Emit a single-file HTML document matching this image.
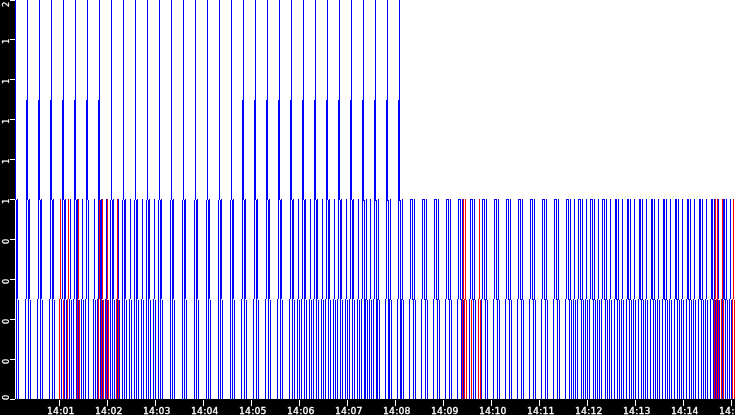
<!DOCTYPE html>
<html><head><meta charset="utf-8"><title>chart</title>
<style>
html,body{margin:0;padding:0;background:#fff;}
#c{position:relative;width:735px;height:415px;overflow:hidden;background:#fff;font-family:"DejaVu Sans","Liberation Sans",sans-serif;font-size:9.3px;color:#fff;-webkit-text-stroke:0.3px #fff;letter-spacing:0.15px;line-height:1;}
#ya{position:absolute;left:0;top:0;width:15px;height:415px;background:#000;}
#xa{position:absolute;left:0;top:399px;width:735px;height:16px;background:#000;}
.tk{position:absolute;left:10px;width:5px;height:1px;background:#fff;}
.xt{position:absolute;top:400px;width:1px;height:6px;background:#fff;}
.yl{position:absolute;left:1.3px;width:9px;height:6px;}
.yl{font-family:"DejaVu Sans Condensed","DejaVu Sans","Liberation Sans",sans-serif;-webkit-text-stroke:0.2px #fff;letter-spacing:0;writing-mode:vertical-rl;transform:rotate(180deg);text-align:left;white-space:nowrap;overflow:visible;}
.xl{position:absolute;top:406px;width:40px;text-align:left;white-space:nowrap;}
svg{position:absolute;left:0;top:0;}
</style></head><body>
<div id="c">
<svg width="735" height="415" viewBox="0 0 735 415" shape-rendering="crispEdges">
<path fill="#0000ff" d="M15 0h1v200h-1zM27 0h1v200h-1zM39 0h1v200h-1zM51 0h1v200h-1zM63 0h1v200h-1zM75 0h1v200h-1zM87 0h1v200h-1zM99 0h1v200h-1zM111 0h1v200h-1zM123 0h1v200h-1zM135 0h1v200h-1zM147 0h1v200h-1zM159 0h1v200h-1zM171 0h1v200h-1zM183 0h1v200h-1zM195 0h1v200h-1zM207 0h1v200h-1zM219 0h1v200h-1zM231 0h1v200h-1zM243 0h1v200h-1zM255 0h1v200h-1zM267 0h1v200h-1zM279 0h1v200h-1zM291 0h1v200h-1zM303 0h1v200h-1zM315 0h1v200h-1zM327 0h1v200h-1zM339 0h1v200h-1zM351 0h1v200h-1zM363 0h1v200h-1zM375 0h1v200h-1zM387 0h1v200h-1zM399 0h1v200h-1zM26 100h1v100h-1zM38 100h1v100h-1zM50 100h1v100h-1zM62 100h1v100h-1zM74 100h1v100h-1zM86 100h1v100h-1zM98 100h1v100h-1zM242 100h1v100h-1zM254 100h1v100h-1zM266 100h1v100h-1zM278 100h1v100h-1zM290 100h1v100h-1zM302 100h1v100h-1zM314 100h1v100h-1zM326 100h1v100h-1zM338 100h1v100h-1zM350 100h1v100h-1zM362 100h1v100h-1zM374 100h1v100h-1zM386 100h1v100h-1zM398 100h1v100h-1zM16 200h1v100h-1zM17 199h1v100h-1zM26 199h1v100h-1zM28 200h1v100h-1zM29 199h1v100h-1zM38 199h1v100h-1zM40 200h1v100h-1zM41 199h1v100h-1zM50 199h1v100h-1zM52 200h1v100h-1zM53 199h1v100h-1zM62 199h1v100h-1zM64 200h1v100h-1zM65 199h1v100h-1zM70 199h1v100h-1zM74 199h1v100h-1zM76 200h1v100h-1zM77 199h1v100h-1zM82 199h1v100h-1zM86 199h1v100h-1zM88 200h1v100h-1zM94 199h1v100h-1zM98 199h1v100h-1zM100 200h1v100h-1zM101 199h1v100h-1zM106 199h1v100h-1zM110 200h1v100h-1zM112 200h1v100h-1zM113 199h1v100h-1zM118 199h1v100h-1zM122 200h1v100h-1zM124 200h1v100h-1zM125 199h1v100h-1zM130 199h1v100h-1zM134 200h1v100h-1zM136 200h1v100h-1zM137 199h1v100h-1zM142 199h1v100h-1zM146 200h1v100h-1zM148 200h1v100h-1zM149 199h1v100h-1zM154 199h1v100h-1zM158 200h1v100h-1zM160 200h1v100h-1zM161 199h1v100h-1zM170 200h1v100h-1zM172 200h1v100h-1zM173 199h1v100h-1zM182 200h1v100h-1zM184 200h1v100h-1zM185 199h1v100h-1zM194 200h1v100h-1zM196 200h1v100h-1zM197 199h1v100h-1zM206 200h1v100h-1zM208 200h1v100h-1zM209 199h1v100h-1zM218 200h1v100h-1zM220 200h1v100h-1zM221 199h1v100h-1zM230 200h1v100h-1zM232 200h1v100h-1zM233 199h1v100h-1zM242 199h1v100h-1zM244 200h1v100h-1zM245 199h1v100h-1zM254 199h1v100h-1zM256 200h1v100h-1zM257 199h1v100h-1zM266 199h1v100h-1zM268 200h1v100h-1zM269 199h1v100h-1zM278 199h1v100h-1zM280 200h1v100h-1zM281 199h1v100h-1zM290 199h1v100h-1zM292 200h1v100h-1zM293 199h1v100h-1zM298 199h1v100h-1zM302 199h1v100h-1zM304 200h1v100h-1zM305 199h1v100h-1zM310 199h1v100h-1zM314 199h1v100h-1zM316 200h1v100h-1zM317 199h1v100h-1zM322 199h1v100h-1zM326 199h1v100h-1zM328 200h1v100h-1zM329 199h1v100h-1zM334 199h1v100h-1zM338 199h1v100h-1zM340 200h1v100h-1zM341 199h1v100h-1zM346 199h1v100h-1zM350 199h1v100h-1zM352 200h1v100h-1zM353 199h1v100h-1zM358 199h1v100h-1zM362 199h1v100h-1zM364 200h1v100h-1zM366 199h1v101h-1zM370 199h1v100h-1zM374 199h1v100h-1zM376 200h1v100h-1zM378 199h1v101h-1zM386 199h1v100h-1zM388 200h1v100h-1zM390 199h1v101h-1zM398 199h1v100h-1zM400 200h1v100h-1zM402 199h1v101h-1zM410 199h1v100h-1zM412 199h1v101h-1zM414 199h1v101h-1zM422 199h1v100h-1zM424 199h1v101h-1zM426 199h1v101h-1zM434 199h1v100h-1zM436 199h1v101h-1zM438 199h1v101h-1zM446 199h1v100h-1zM448 199h1v101h-1zM450 199h1v101h-1zM458 199h1v100h-1zM460 199h1v101h-1zM462 199h1v101h-1zM470 199h1v100h-1zM472 199h1v101h-1zM474 199h1v101h-1zM482 199h1v100h-1zM484 199h1v101h-1zM486 199h1v101h-1zM494 199h1v100h-1zM496 199h1v101h-1zM498 199h1v101h-1zM506 199h1v100h-1zM508 199h1v101h-1zM510 199h1v101h-1zM518 199h1v100h-1zM520 199h1v101h-1zM522 199h1v101h-1zM530 199h1v100h-1zM532 199h1v101h-1zM534 199h1v101h-1zM542 199h1v100h-1zM544 199h1v101h-1zM546 199h1v101h-1zM554 199h1v100h-1zM556 199h1v101h-1zM558 199h1v101h-1zM566 199h1v100h-1zM568 199h1v101h-1zM570 199h1v101h-1zM574 199h1v100h-1zM578 199h1v100h-1zM580 199h1v101h-1zM582 199h1v101h-1zM586 199h1v100h-1zM590 199h1v100h-1zM592 199h1v101h-1zM594 199h1v101h-1zM598 199h1v100h-1zM602 199h1v100h-1zM604 199h1v101h-1zM606 199h1v101h-1zM610 199h1v100h-1zM615 199h1v100h-1zM616 199h1v101h-1zM618 199h1v101h-1zM622 199h1v100h-1zM627 199h1v100h-1zM628 199h1v101h-1zM630 199h1v101h-1zM634 199h1v100h-1zM639 199h1v100h-1zM640 199h1v101h-1zM642 199h1v101h-1zM646 199h1v100h-1zM651 199h1v100h-1zM652 199h1v101h-1zM654 199h1v101h-1zM658 199h1v100h-1zM663 199h1v100h-1zM664 199h1v101h-1zM666 199h1v101h-1zM670 199h1v100h-1zM675 199h1v100h-1zM676 199h1v101h-1zM678 199h1v101h-1zM682 199h1v100h-1zM687 199h1v100h-1zM688 199h1v101h-1zM690 199h1v101h-1zM694 199h1v100h-1zM699 199h1v100h-1zM700 199h1v101h-1zM702 199h1v101h-1zM706 199h1v100h-1zM711 199h1v100h-1zM712 199h1v101h-1zM714 199h1v101h-1zM718 199h1v100h-1zM723 199h1v100h-1zM724 199h1v101h-1zM726 199h1v101h-1zM730 199h1v100h-1zM16 299h1v100h-1zM18 300h1v99h-1zM25 299h1v100h-1zM28 299h1v100h-1zM30 300h1v99h-1zM37 299h1v100h-1zM40 299h1v100h-1zM42 300h1v99h-1zM49 299h1v100h-1zM52 299h1v100h-1zM54 300h1v99h-1zM61 299h1v100h-1zM64 299h1v100h-1zM66 300h1v99h-1zM69 299h1v100h-1zM71 300h1v99h-1zM73 299h1v100h-1zM76 299h1v100h-1zM78 300h1v99h-1zM81 299h1v100h-1zM83 300h1v99h-1zM85 299h1v100h-1zM88 299h1v100h-1zM93 299h1v100h-1zM95 300h1v99h-1zM97 299h1v100h-1zM100 299h1v100h-1zM102 300h1v99h-1zM105 299h1v100h-1zM107 300h1v99h-1zM110 299h1v100h-1zM112 299h1v100h-1zM114 300h1v99h-1zM117 299h1v100h-1zM119 300h1v99h-1zM122 299h1v100h-1zM124 299h1v100h-1zM126 300h1v99h-1zM129 299h1v100h-1zM131 300h1v99h-1zM134 299h1v100h-1zM136 299h1v100h-1zM138 300h1v99h-1zM141 299h1v100h-1zM143 300h1v99h-1zM146 299h1v100h-1zM148 299h1v100h-1zM150 300h1v99h-1zM153 299h1v100h-1zM155 300h1v99h-1zM158 299h1v100h-1zM160 299h1v100h-1zM162 300h1v99h-1zM170 299h1v100h-1zM172 299h1v100h-1zM174 300h1v99h-1zM182 299h1v100h-1zM184 299h1v100h-1zM186 300h1v99h-1zM194 299h1v100h-1zM196 299h1v100h-1zM198 300h1v99h-1zM206 299h1v100h-1zM208 299h1v100h-1zM210 300h1v99h-1zM218 299h1v100h-1zM220 299h1v100h-1zM222 300h1v99h-1zM230 299h1v100h-1zM232 299h1v100h-1zM234 300h1v99h-1zM241 299h1v100h-1zM244 299h1v100h-1zM246 300h1v99h-1zM253 299h1v100h-1zM256 299h1v100h-1zM258 300h1v99h-1zM265 299h1v100h-1zM268 299h1v100h-1zM270 300h1v99h-1zM277 299h1v100h-1zM280 299h1v100h-1zM282 300h1v99h-1zM289 299h1v100h-1zM292 299h1v100h-1zM294 300h1v99h-1zM297 299h1v100h-1zM299 300h1v99h-1zM301 299h1v100h-1zM304 299h1v100h-1zM306 300h1v99h-1zM309 299h1v100h-1zM311 300h1v99h-1zM313 299h1v100h-1zM316 299h1v100h-1zM318 300h1v99h-1zM321 299h1v100h-1zM323 300h1v99h-1zM325 299h1v100h-1zM328 299h1v100h-1zM330 300h1v99h-1zM333 299h1v100h-1zM335 300h1v99h-1zM337 299h1v100h-1zM340 299h1v100h-1zM342 300h1v99h-1zM345 299h1v100h-1zM347 300h1v99h-1zM349 299h1v100h-1zM352 299h1v100h-1zM354 300h1v99h-1zM357 299h1v100h-1zM359 300h1v99h-1zM361 299h1v100h-1zM364 299h1v100h-1zM365 299h1v100h-1zM367 300h1v99h-1zM369 299h1v100h-1zM371 300h1v99h-1zM373 299h1v100h-1zM376 299h1v100h-1zM377 299h1v100h-1zM379 300h1v99h-1zM385 299h1v100h-1zM388 299h1v100h-1zM389 299h1v100h-1zM391 300h1v99h-1zM397 299h1v100h-1zM400 299h1v100h-1zM401 299h1v100h-1zM403 300h1v99h-1zM409 299h1v100h-1zM413 299h1v100h-1zM415 300h1v99h-1zM421 299h1v100h-1zM425 299h1v100h-1zM427 300h1v99h-1zM433 299h1v100h-1zM437 299h1v100h-1zM439 300h1v99h-1zM445 299h1v100h-1zM449 299h1v100h-1zM451 300h1v99h-1zM457 299h1v100h-1zM461 299h1v100h-1zM463 300h1v99h-1zM469 299h1v100h-1zM473 299h1v100h-1zM475 300h1v99h-1zM481 299h1v100h-1zM485 299h1v100h-1zM487 300h1v99h-1zM493 299h1v100h-1zM497 299h1v100h-1zM499 300h1v99h-1zM505 299h1v100h-1zM509 299h1v100h-1zM511 300h1v99h-1zM517 299h1v100h-1zM521 299h1v100h-1zM523 300h1v99h-1zM529 299h1v100h-1zM533 299h1v100h-1zM535 300h1v99h-1zM541 299h1v100h-1zM545 299h1v100h-1zM547 300h1v99h-1zM553 299h1v100h-1zM557 299h1v100h-1zM559 300h1v99h-1zM565 299h1v100h-1zM569 299h1v100h-1zM571 300h1v99h-1zM573 299h1v100h-1zM575 300h1v99h-1zM577 299h1v100h-1zM581 299h1v100h-1zM583 300h1v99h-1zM585 299h1v100h-1zM587 300h1v99h-1zM589 299h1v100h-1zM593 299h1v100h-1zM595 300h1v99h-1zM597 299h1v100h-1zM599 300h1v99h-1zM601 299h1v100h-1zM605 299h1v100h-1zM607 300h1v99h-1zM609 299h1v100h-1zM611 300h1v99h-1zM614 299h1v100h-1zM617 299h1v100h-1zM619 300h1v99h-1zM621 299h1v100h-1zM623 300h1v99h-1zM626 299h1v100h-1zM629 299h1v100h-1zM631 300h1v99h-1zM633 299h1v100h-1zM635 300h1v99h-1zM638 299h1v100h-1zM641 299h1v100h-1zM643 300h1v99h-1zM645 299h1v100h-1zM647 300h1v99h-1zM650 299h1v100h-1zM653 299h1v100h-1zM655 300h1v99h-1zM657 299h1v100h-1zM659 300h1v99h-1zM662 299h1v100h-1zM665 299h1v100h-1zM667 300h1v99h-1zM669 299h1v100h-1zM671 300h1v99h-1zM674 299h1v100h-1zM677 299h1v100h-1zM679 300h1v99h-1zM681 299h1v100h-1zM683 300h1v99h-1zM686 299h1v100h-1zM689 299h1v100h-1zM691 300h1v99h-1zM693 299h1v100h-1zM695 300h1v99h-1zM698 299h1v100h-1zM701 299h1v100h-1zM703 300h1v99h-1zM705 299h1v100h-1zM707 300h1v99h-1zM710 299h1v100h-1zM713 299h1v100h-1zM715 300h1v99h-1zM717 299h1v100h-1zM719 300h1v99h-1zM722 299h1v100h-1zM725 299h1v100h-1zM727 300h1v99h-1zM729 299h1v100h-1zM731 300h1v99h-1zM365 299h1v1h-1zM377 299h1v1h-1zM389 299h1v1h-1zM401 299h1v1h-1zM413 299h1v1h-1zM425 299h1v1h-1zM437 299h1v1h-1zM449 299h1v1h-1zM461 299h1v1h-1zM473 299h1v1h-1zM485 299h1v1h-1zM497 299h1v1h-1zM509 299h1v1h-1zM521 299h1v1h-1zM533 299h1v1h-1zM545 299h1v1h-1zM557 299h1v1h-1zM569 299h1v1h-1zM581 299h1v1h-1zM593 299h1v1h-1zM605 299h1v1h-1zM617 299h1v1h-1zM629 299h1v1h-1zM641 299h1v1h-1zM653 299h1v1h-1zM665 299h1v1h-1zM677 299h1v1h-1zM689 299h1v1h-1zM701 299h1v1h-1zM713 299h1v1h-1zM725 299h1v1h-1zM362 200h3v1h-3zM374 200h3v1h-3zM386 200h3v1h-3zM398 200h3v1h-3zM410 199h3v1h-3zM422 199h3v1h-3zM434 199h3v1h-3zM446 199h3v1h-3zM458 199h3v1h-3zM470 199h3v1h-3zM482 199h3v1h-3zM494 199h3v1h-3zM506 199h3v1h-3zM518 199h3v1h-3zM530 199h3v1h-3zM542 199h3v1h-3zM554 199h3v1h-3zM566 199h3v1h-3zM578 199h3v1h-3zM590 199h3v1h-3zM602 199h3v1h-3z"/>
<path fill="#ff0000" d="M60 199h1v100h-1zM68 199h1v100h-1zM78 199h1v100h-1zM99 200h1v99h-1zM102 199h1v100h-1zM107 199h1v100h-1zM117 199h1v100h-1zM463 199h1v100h-1zM465 199h1v101h-1zM479 199h1v100h-1zM715 199h1v100h-1zM717 199h1v101h-1zM722 199h1v100h-1zM733 199h1v100h-1zM59 299h1v100h-1zM63 300h1v99h-1zM67 299h1v100h-1zM77 299h1v100h-1zM79 300h1v99h-1zM98 299h1v100h-1zM101 299h1v100h-1zM103 300h1v99h-1zM106 299h1v100h-1zM108 300h1v99h-1zM116 299h1v100h-1zM118 300h1v99h-1zM462 299h1v100h-1zM464 299h1v100h-1zM466 300h1v99h-1zM471 300h1v99h-1zM478 299h1v100h-1zM480 300h1v99h-1zM714 299h1v100h-1zM716 299h1v100h-1zM718 300h1v99h-1zM721 299h1v100h-1zM723 300h1v99h-1zM732 299h1v100h-1zM734 300h1v99h-1zM464 299h1v1h-1zM716 299h1v1h-1z"/>
</svg>
<div id="ya"></div><div id="xa"></div>
<div class="tk" style="top:0px"></div><div class="yl" style="top:0.5px">2</div><div class="tk" style="top:39px"></div><div class="yl" style="top:37.7px">1</div><div class="tk" style="top:79px"></div><div class="yl" style="top:77.7px">1</div><div class="tk" style="top:119px"></div><div class="yl" style="top:117.7px">1</div><div class="tk" style="top:159px"></div><div class="yl" style="top:157.7px">1</div><div class="tk" style="top:199px"></div><div class="yl" style="top:197.7px">1</div><div class="tk" style="top:239px"></div><div class="yl" style="top:237.7px">0</div><div class="tk" style="top:279px"></div><div class="yl" style="top:277.7px">0</div><div class="tk" style="top:319px"></div><div class="yl" style="top:317.7px">0</div><div class="tk" style="top:359px"></div><div class="yl" style="top:357.7px">0</div><div class="tk" style="top:399px"></div><div class="yl" style="top:394px">0</div>
<div class="xt" style="left:59px"></div><div class="xl" style="left:47px">14:01</div><div class="xt" style="left:107px"></div><div class="xl" style="left:95px">14:02</div><div class="xt" style="left:155px"></div><div class="xl" style="left:143px">14:03</div><div class="xt" style="left:203px"></div><div class="xl" style="left:191px">14:04</div><div class="xt" style="left:251px"></div><div class="xl" style="left:239px">14:05</div><div class="xt" style="left:299px"></div><div class="xl" style="left:287px">14:06</div><div class="xt" style="left:347px"></div><div class="xl" style="left:335px">14:07</div><div class="xt" style="left:395px"></div><div class="xl" style="left:383px">14:08</div><div class="xt" style="left:443px"></div><div class="xl" style="left:431px">14:09</div><div class="xt" style="left:491px"></div><div class="xl" style="left:479px">14:10</div><div class="xt" style="left:539px"></div><div class="xl" style="left:527px">14:11</div><div class="xt" style="left:587px"></div><div class="xl" style="left:575px">14:12</div><div class="xt" style="left:635px"></div><div class="xl" style="left:623px">14:13</div><div class="xt" style="left:683px"></div><div class="xl" style="left:671px">14:14</div><div class="xt" style="left:731px"></div><div class="xl" style="left:719px">14:15</div>
</div>
</body></html>
